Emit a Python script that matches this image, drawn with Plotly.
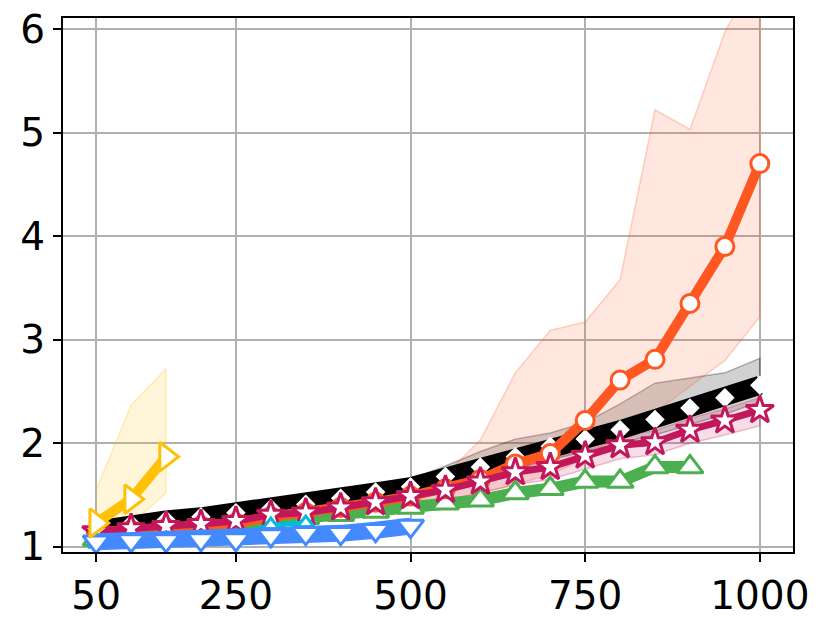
import plotly.graph_objects as go

x_all = [50, 100, 150, 200, 250, 300, 350, 400, 450, 500,
         550, 600, 650, 700, 750, 800, 850, 900, 950, 1000]

black_y = [1.16, 1.22, 1.26, 1.29, 1.33, 1.37, 1.41, 1.47, 1.53, 1.58,
           1.68, 1.77, 1.87, 1.97, 2.04, 2.13, 2.23, 2.34, 2.44, 2.56]
black_hi = [1.20, 1.26, 1.30, 1.33, 1.37, 1.41, 1.46, 1.52, 1.58, 1.65,
            1.78, 1.92, 2.04, 2.10, 2.20, 2.38, 2.58, 2.63, 2.68, 2.82]
black_lo = [1.13, 1.18, 1.22, 1.25, 1.29, 1.33, 1.37, 1.42, 1.48, 1.52,
            1.60, 1.68, 1.75, 1.84, 1.92, 2.00, 2.08, 2.18, 2.28, 2.40]

orange_y = [1.14, 1.16, 1.18, 1.20, 1.23, 1.29, 1.33, 1.38, 1.43, 1.49,
            1.56, 1.65, 1.80, 1.90, 2.22, 2.61, 2.81, 3.35, 3.90, 4.70]
orange_hi = [1.20, 1.22, 1.25, 1.27, 1.30, 1.36, 1.40, 1.45, 1.52, 1.58,
             1.70, 2.03, 2.68, 3.09, 3.17, 3.58, 5.22, 5.03, 5.97, 6.60]
orange_lo = [1.05, 1.08, 1.10, 1.12, 1.15, 1.20, 1.24, 1.28, 1.33, 1.38,
             1.45, 1.52, 1.60, 1.70, 1.85, 2.10, 2.30, 2.55, 2.80, 3.22]

magenta_y = [1.15, 1.18, 1.20, 1.22, 1.25, 1.31, 1.33, 1.38, 1.43, 1.49,
             1.55, 1.63, 1.72, 1.77, 1.88, 1.98, 2.01, 2.13, 2.22, 2.32]
magenta_hi = [1.20, 1.23, 1.25, 1.27, 1.30, 1.36, 1.39, 1.44, 1.50, 1.56,
              1.63, 1.72, 1.82, 1.88, 1.99, 2.08, 2.12, 2.24, 2.33, 2.44]
magenta_lo = [1.10, 1.13, 1.15, 1.17, 1.20, 1.25, 1.27, 1.31, 1.35, 1.40,
              1.45, 1.52, 1.60, 1.65, 1.75, 1.85, 1.89, 2.00, 2.08, 2.17]

x_green = x_all[:18]
green_y = [1.07, 1.10, 1.13, 1.16, 1.19, 1.25, 1.28, 1.31, 1.34, 1.38,
           1.42, 1.45, 1.52, 1.56, 1.63, 1.63, 1.77, 1.77]
green_hi = [1.10, 1.13, 1.16, 1.19, 1.23, 1.29, 1.32, 1.35, 1.38, 1.42,
            1.46, 1.50, 1.57, 1.61, 1.68, 1.68, 1.82, 1.82]
green_lo = [1.04, 1.07, 1.10, 1.13, 1.15, 1.21, 1.24, 1.27, 1.30, 1.34,
            1.38, 1.40, 1.47, 1.51, 1.58, 1.58, 1.72, 1.72]

x_blue = x_all[:10]
blue_y = [1.05, 1.06, 1.06, 1.07, 1.07, 1.11, 1.13, 1.13, 1.16, 1.20]
blue_hi = [1.08, 1.09, 1.09, 1.10, 1.10, 1.15, 1.17, 1.17, 1.20, 1.24]
blue_lo = [1.02, 1.03, 1.03, 1.04, 1.04, 1.07, 1.09, 1.09, 1.12, 1.16]

x_cyan = x_all[:7]
cyan_y = [1.03, 1.05, 1.06, 1.08, 1.10, 1.21, 1.23]

x_yellow = [50, 100, 150]
yellow_y = [1.23, 1.46, 1.87]
yellow_hi = [1.55, 2.37, 2.72]
yellow_lo = [1.08, 1.22, 1.52]

x_ticks = [50, 250, 500, 750, 1000]
y_ticks = [1, 2, 3, 4, 5, 6]

fig = go.Figure()


def band(xs, lo, hi, rgb, alpha=0.2):
    fig.add_trace(go.Scatter(
        x=list(xs) + list(xs)[::-1], y=list(hi) + list(lo)[::-1],
        fill="toself", fillcolor=f"rgba({rgb},{alpha})",
        line=dict(color=f"rgba({rgb},{alpha + 0.1})", width=1.5),
        mode="lines", hoverinfo="skip", showlegend=False))


band(x_all, black_lo, black_hi, "0,0,0", 0.18)
band(x_all, orange_lo, orange_hi, "255,87,34", 0.15)
band(x_all, magenta_lo, magenta_hi, "194,24,91", 0.15)
band(x_green, green_lo, green_hi, "76,175,80", 0.15)
band(x_blue, blue_lo, blue_hi, "68,138,255", 0.15)
band(x_yellow, yellow_lo, yellow_hi, "255,193,7", 0.15)


def series(xs, ys, color, width, symbol, size, lw):
    fig.add_trace(go.Scatter(
        x=xs, y=ys, mode="lines+markers",
        line=dict(color=color, width=width),
        marker=dict(symbol=symbol, size=size, color="white",
                    line=dict(color=color, width=lw)),
        showlegend=False))


series(x_green, green_y, "#4CAF50", 12, "triangle-up", 23, 3)
series(x_all, black_y, "#000000", 19, "diamond", 15, 0)
series(x_all, orange_y, "#FF5722", 10, "circle", 18, 3)
series(x_all, magenta_y, "#C2185B", 7, "star", 21, 3)
series(x_cyan, cyan_y, "#00BCD4", 5, "triangle-up", 14, 3)
series(x_blue, blue_y, "#448AFF", 17, "triangle-down", 23, 3)
series(x_yellow, yellow_y, "#FFC107", 10, "triangle-right", 25, 3)

axis_common = dict(
    showline=True, linecolor="black", linewidth=2, mirror=True,
    ticks="outside", ticklen=8, tickwidth=2, tickcolor="black",
    showgrid=True, gridcolor="#b0b0b0", gridwidth=2, zeroline=False,
    automargin=False, ticklabeloverflow="allow",
    tickfont=dict(family="DejaVu Sans", size=39, color="black"),
)

fig.update_xaxes(range=[2.5, 1047.5], tickvals=x_ticks,
                 ticktext=[str(v) for v in x_ticks], **axis_common)
fig.update_yaxes(range=[0.95, 6.106], tickvals=y_ticks,
                 ticktext=[str(v) for v in y_ticks], **axis_common)

# page body adds an 8px offset; compensate so the plot area lands where the
# reference has it
fig.update_layout(
    width=822, height=623,
    margin=dict(l=55, r=37, t=10, b=79),
    plot_bgcolor="white", paper_bgcolor="white",
    showlegend=False,
)

fig.write_html("out.html")
